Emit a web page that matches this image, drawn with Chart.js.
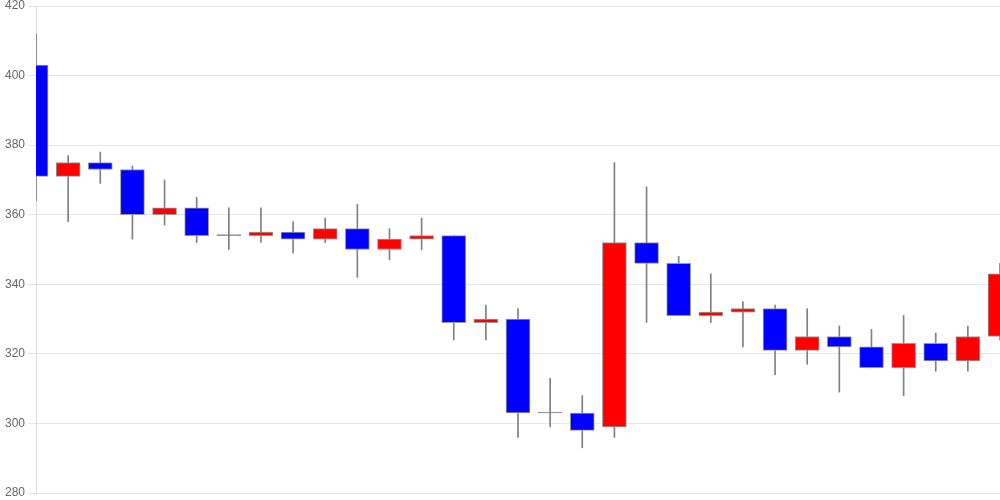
<!DOCTYPE html>
<html>
<head>
<meta charset="utf-8">
<script src="https://cdn.jsdelivr.net/npm/chart.js@4/dist/chart.umd.min.js"></script>
<style>
  html, body { margin: 0; padding: 0; background: #fff; }
  #wrap { width: 1000px; height: 500px; }
</style>
</head>
<body>
<div id="wrap"><canvas id="myChart"></canvas></div>
<script>
// daily candles
const days  = ["1","2","3","4","5","6","7","8","9","10","11","12","13","14","15","16","17","18","19","20","21","22","23","24","25","26","27","28","29","30","31"];
const open  = [403,371,375,373,360,362,354,354,355,353,356,350,353,354,329,330,303,303,299,352,346,331,332,333,321,325,322,316,323,318,325];
const close = [371,375,373,360,362,354,354,355,353,356,350,353,354,329,330,303,303,298,352,346,331,332,333,321,325,322,316,323,318,325,343];
const high  = [412,377,378,374,370,365,362,362,358,359,363,356,359,354,334,333,313,308,375,368,348,343,335,334,333,328,327,331,326,328,346];
const low   = [364,358,369,353,357,352,350,352,349,352,342,347,350,324,324,296,299,293,296,329,331,329,322,314,317,309,316,308,315,315,324];
const yTicks = [280, 300, 320, 340, 360, 380, 400, 420];

const bodies = open.map((o, i) => [o, close[i]]);
const wicks = low.map((l, i) => [l, high[i]]);
const bodyColors = open.map((o, i) => close[i] > o ? '#ff0000' : (close[i] < o ? '#0000ff' : '#666666'));

const ctx = document.getElementById('myChart').getContext('2d');
const myChart = new Chart(ctx, {
    type: 'bar',
    data: {
        labels: days,
        datasets: [{
            label: 'body',
            data: bodies,
            backgroundColor: bodyColors,
            borderColor: '#999999',
            borderWidth: 1,
            borderSkipped: false,
            barThickness: 24,
            minBarLength: 1,
            grouped: false
        }, {
            label: 'wick',
            data: wicks,
            backgroundColor: '#808080',
            borderWidth: 0,
            barThickness: 1,
            grouped: false
        }]
    },
    options: {
        responsive: true,
        maintainAspectRatio: false,
        animation: false,
        layout: { padding: { left: 2 } },
        plugins: {
            legend: { display: false },
            tooltip: { enabled: false }
        },
        scales: {
            x: {
                display: false,
                offset: false
            },
            y: {
                min: 280,
                max: 420,
                afterBuildTicks: (axis) => { axis.ticks = yTicks.map(v => ({ value: v })); },
                afterFit: (axis) => { axis.paddingTop = 6; axis.paddingBottom = 7; },
                ticks: { color: '#666', font: { family: 'Arial, "Liberation Sans"', size: 12 } },
                grid: { color: '#e6e6e6' },
                border: { color: '#dddddd' }
            }
        }
    }
});
</script>
</body>
</html>
